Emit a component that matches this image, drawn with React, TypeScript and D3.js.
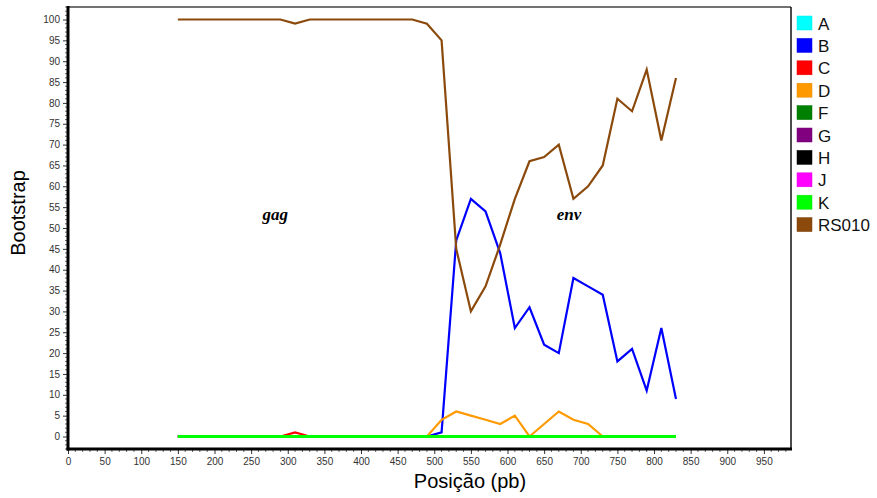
import React, { useEffect, useRef } from "react";
import * as d3 from "d3";

const positions = [
  150, 170, 190, 210, 230, 250, 270, 290, 310, 330, 350, 370, 390, 410, 430, 450, 470, 490,
  510, 530, 550, 570, 590, 610, 630, 650, 670, 690, 710, 730, 750, 770, 790, 810, 830,
];

const zeros = [
  0, 0, 0, 0, 0, 0, 0, 0, 0, 0, 0, 0, 0, 0, 0, 0, 0, 0,
  0, 0, 0, 0, 0, 0, 0, 0, 0, 0, 0, 0, 0, 0, 0, 0, 0,
];

const seriesC = [
  0, 0, 0, 0, 0, 0, 0, 0, 1, 0, 0, 0, 0, 0, 0, 0, 0, 0,
  0, 0, 0, 0, 0, 0, 0, 0, 0, 0, 0, 0, 0, 0, 0, 0, 0,
];

const seriesD = [
  0, 0, 0, 0, 0, 0, 0, 0, 0, 0, 0, 0, 0, 0, 0, 0, 0, 0,
  4, 6, 5, 4, 3, 5, 0, 3, 6, 4, 3, 0, 0, 0, 0, 0, 0,
];

const seriesB = [
  0, 0, 0, 0, 0, 0, 0, 0, 0, 0, 0, 0, 0, 0, 0, 0, 0, 0,
  1, 47, 57, 54, 44, 26, 31, 22, 20, 38, 36, 34, 18, 21, 11, 26, 9,
];

const seriesRS010 = [
  100, 100, 100, 100, 100, 100, 100, 100, 99, 100, 100, 100, 100, 100, 100, 100, 100, 99,
  95, 45, 30, 36, 46, 57, 66, 67, 70, 57, 60, 65, 81, 78, 88, 71, 86,
];

const legendNames = ["A", "B", "C", "D", "F", "G", "H", "J", "K", "RS010"];
const legendColors = [
  "#00ffff", "#0000ff", "#ff0000", "#ff9900", "#008000",
  "#800080", "#000000", "#ff00ff", "#00ff00", "#8b4a0c",
];

// draw order: hidden zero series first, K on top of the baseline
const drawOrder = [
  { name: "A", values: zeros },
  { name: "F", values: zeros },
  { name: "G", values: zeros },
  { name: "H", values: zeros },
  { name: "J", values: zeros },
  { name: "C", values: seriesC },
  { name: "B", values: seriesB },
  { name: "D", values: seriesD },
  { name: "RS010", values: seriesRS010 },
  { name: "K", values: zeros },
];

const xTicks = [0, 50, 100, 150, 200, 250, 300, 350, 400, 450, 500, 550, 600, 650, 700, 750, 800, 850, 900, 950];
const yTicks = [0, 5, 10, 15, 20, 25, 30, 35, 40, 45, 50, 55, 60, 65, 70, 75, 80, 85, 90, 95, 100];

const regionLabels = [
  { text: "gag", pos: 283, value: 52 },
  { text: "env", pos: 684, value: 52 },
];

const App = () => {
  const chartRef = useRef<SVGSVGElement>(null);

  useEffect(() => {
    if (!chartRef.current) return;
    const svg = d3.select(chartRef.current);
    svg.selectAll("*").remove();

    const left = 68;
    const right = 791;
    const top = 7;
    const bottom = 449;

    const x = d3.scaleLinear().domain([0, 987]).range([left, right]);
    const y = d3.scaleLinear().domain([-3, 103]).range([bottom, top]);
    const colorOf = d3.scaleOrdinal<string, string>().domain(legendNames).range(legendColors);

    const tickFont = "Liberation Sans, Arial, sans-serif";

    // frame
    svg.append("line").attr("x1", left).attr("x2", right).attr("y1", top).attr("y2", top)
      .attr("stroke", "#444").attr("stroke-width", 1.5);
    svg.append("line").attr("x1", right).attr("x2", right).attr("y1", top).attr("y2", bottom)
      .attr("stroke", "#111").attr("stroke-width", 1.5);

    // minor ticks
    const yMinor = d3.range(-3, 104, 1).filter((v) => v % 5 !== 0);
    svg.append("g").selectAll("line").data(yMinor).join("line")
      .attr("x1", left - 3).attr("x2", left)
      .attr("y1", (d) => y(d)).attr("y2", (d) => y(d))
      .attr("stroke", "#666").attr("stroke-width", 1);
    const xMinor = d3.range(0, 990, 10).filter((v) => v % 50 !== 0);
    svg.append("g").selectAll("line").data(xMinor).join("line")
      .attr("x1", (d) => x(d)).attr("x2", (d) => x(d))
      .attr("y1", bottom).attr("y2", bottom + 3)
      .attr("stroke", "#666").attr("stroke-width", 1);

    // y axis
    const yAxis = svg.append("g").attr("transform", `translate(${left},0)`)
      .call(d3.axisLeft(y).tickValues(yTicks).tickSize(5).tickPadding(3));
    yAxis.select(".domain").remove();
    yAxis.selectAll(".tick line").attr("stroke", "#333");
    yAxis.selectAll(".tick text").attr("fill", "#333").style("font-family", tickFont).style("font-size", "10px");

    // x axis
    const xAxis = svg.append("g").attr("transform", `translate(0,${bottom})`)
      .call(d3.axisBottom(x).tickValues(xTicks).tickSize(5).tickPadding(4));
    xAxis.select(".domain").remove();
    xAxis.selectAll(".tick line").attr("stroke", "#333");
    xAxis.selectAll(".tick text").attr("fill", "#333").style("font-family", tickFont).style("font-size", "10px");

    // thick axis lines
    svg.append("line").attr("x1", left).attr("x2", left).attr("y1", top - 1).attr("y2", bottom + 1.5)
      .attr("stroke", "#000").attr("stroke-width", 3);
    svg.append("line").attr("x1", left - 1.5).attr("x2", right + 1).attr("y1", bottom).attr("y2", bottom)
      .attr("stroke", "#000").attr("stroke-width", 3);

    // series
    const line = d3.line<number>()
      .x((d, i) => x(positions[i]))
      .y((d) => y(d));

    drawOrder.forEach((s) => {
      svg.append("path")
        .datum(s.values)
        .attr("d", line)
        .attr("fill", "none")
        .attr("stroke", colorOf(s.name))
        .attr("stroke-width", s.name === "K" ? 3 : 2.2)
        .attr("stroke-linejoin", "miter");
    });

    // region labels
    svg.append("g").selectAll("text").data(regionLabels).join("text")
      .attr("x", (d) => x(d.pos))
      .attr("y", (d) => y(d.value))
      .attr("text-anchor", "middle")
      .style("font-family", "Liberation Serif, Times New Roman, serif")
      .style("font-weight", "bold")
      .style("font-style", "italic")
      .style("font-size", "17px")
      .text((d) => d.text);

    // axis titles
    svg.append("text")
      .attr("x", 470)
      .attr("y", 488)
      .attr("text-anchor", "middle")
      .style("font-family", tickFont)
      .style("font-size", "20px")
      .text("Posição (pb)");

    svg.append("text")
      .attr("transform", `translate(25,213) rotate(-90)`)
      .attr("text-anchor", "middle")
      .style("font-family", tickFont)
      .style("font-size", "20px")
      .text("Bootstrap");

    // legend
    const legend = svg.append("g").attr("transform", "translate(797,16)");
    const items = legend.selectAll("g").data(legendNames).join("g")
      .attr("transform", (d, i) => `translate(0,${i * 22.4})`);
    items.append("rect")
      .attr("width", 15).attr("height", 14)
      .attr("fill", (d) => colorOf(d))
      .attr("stroke", (d) => d3.color(colorOf(d))!.darker(0.3).formatHex())
      .attr("stroke-width", 0.5);
    items.append("text")
      .attr("x", 21).attr("y", 13.5)
      .style("font-family", tickFont)
      .style("font-size", "17px")
      .attr("fill", "#111")
      .text((d) => d);
  }, []);

  return (
    <svg
      ref={chartRef}
      width={877}
      height={498}
      style={{ position: "absolute", left: 0, top: 0, background: "#fff" }}
    ></svg>
  );
};

export default App;
